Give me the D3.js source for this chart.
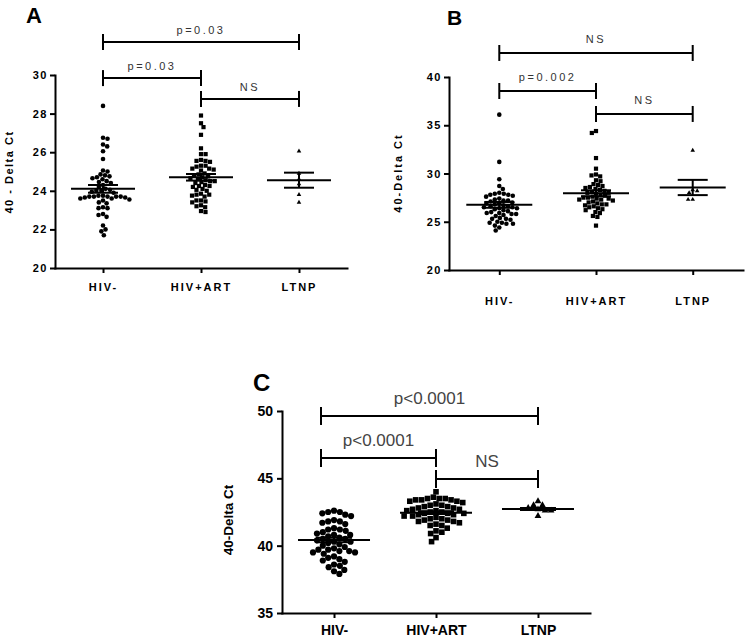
<!DOCTYPE html>
<html><head><meta charset="utf-8">
<script src="https://cdn.jsdelivr.net/npm/d3@7"></script>
<style>body{margin:0;background:#fff}svg{display:block}</style>
</head><body>
<svg id="chart" width="750" height="640"></svg>
<script>
// ---------------- DATA ----------------
const categories = ["HIV-", "HIV+ART", "LTNP"];

// Panel A
const aHIVneg = [28.4, 26.75, 26.7, 26.4, 26.3, 26.05, 25.65, 25.05, 25.0, 24.85, 24.8, 24.75, 24.7, 24.65, 24.6, 24.5, 24.45, 24.4, 24.3, 24.2, 24.1, 24.05, 24.0, 24.0, 23.95, 23.9, 23.75, 23.75, 23.7, 23.7, 23.7, 23.7, 23.7, 23.65, 23.65, 23.6, 23.6, 23.55, 23.5, 23.4, 23.35, 23.15, 23.1, 23.1, 22.8, 22.75, 22.65, 22.2, 22.0, 21.9, 21.7];
const aHIVart = [27.9, 27.5, 27.3, 26.9, 26.2, 25.9, 25.9, 25.6, 25.55, 25.55, 25.5, 25.3, 25.3, 25.25, 25.15, 25.15, 25.1, 25.05, 24.9, 24.85, 24.8, 24.75, 24.7, 24.65, 24.6, 24.55, 24.5, 24.5, 24.45, 24.4, 24.3, 24.25, 24.25, 24.2, 24.1, 24.05, 24.0, 23.85, 23.8, 23.8, 23.75, 23.7, 23.5, 23.5, 23.45, 23.4, 23.25, 23.2, 23.15, 22.95, 22.9];
const aLTNP = [26.05, 24.9, 24.6, 24.35, 23.8, 23.4];
const aMeans = [24.1, 24.7, 24.55];
const aSEM = [0.2, 0.17, 0.39];
const aTicks = [20, 22, 24, 26, 28, 30];
const aBracketLabels = ["p=0.03", "p=0.03", "NS"];

// Panel B
const bHIVneg = [36.1, 31.2, 29.4, 28.7, 28.4, 28.0, 27.9, 27.9, 27.8, 27.8, 27.7, 27.6, 27.4, 27.3, 27.2, 27.2, 27.1, 27.0, 26.9, 26.9, 26.8, 26.7, 26.6, 26.6, 26.5, 26.5, 26.4, 26.4, 26.3, 26.2, 26.1, 26.0, 25.9, 25.9, 25.8, 25.8, 25.7, 25.6, 25.4, 25.3, 25.3, 25.2, 25.0, 24.9, 24.9, 24.8, 24.8, 24.6, 24.4, 24.1];
const bHIVart = [34.4, 34.2, 31.6, 30.5, 29.9, 29.8, 29.7, 29.3, 29.2, 28.9, 28.8, 28.7, 28.6, 28.5, 28.4, 28.3, 28.2, 28.1, 28.0, 28.0, 27.9, 27.8, 27.7, 27.6, 27.5, 27.5, 27.4, 27.4, 27.3, 27.3, 27.2, 27.1, 27.0, 26.9, 26.8, 26.8, 26.7, 26.6, 26.5, 26.4, 26.3, 26.2, 26.0, 25.9, 25.6, 25.5, 24.6];
const bLTNP = [32.4, 28.3, 28.2, 28.0, 27.3, 27.3];
const bMeans = [26.75, 27.95, 28.55];
const bSEM = [0.3, 0.31, 0.79];
const bTicks = [20, 25, 30, 35, 40];
const bBracketLabels = ["NS", "p=0.002", "NS"];

// Panel C
const cHIVneg = [42.6, 42.5, 42.5, 42.4, 42.3, 42.2, 41.9, 41.8, 41.8, 41.7, 41.6, 41.3, 41.2, 41.2, 41.1, 41.0, 40.9, 40.8, 40.8, 40.7, 40.6, 40.5, 40.5, 40.4, 40.3, 40.3, 40.2, 40.1, 40.0, 39.9, 39.8, 39.7, 39.7, 39.6, 39.6, 39.5, 39.5, 39.4, 39.2, 39.1, 39.0, 38.9, 38.8, 38.6, 38.5, 38.4, 38.2, 38.1, 37.9];
const cHIVart = [44.0, 43.6, 43.5, 43.5, 43.5, 43.4, 43.4, 43.4, 43.3, 43.3, 43.2, 43.1, 43.0, 43.0, 42.9, 42.9, 42.8, 42.8, 42.7, 42.7, 42.6, 42.6, 42.5, 42.5, 42.4, 42.4, 42.4, 42.3, 42.3, 42.2, 42.2, 42.1, 42.0, 42.0, 41.9, 41.9, 41.8, 41.8, 41.7, 41.6, 41.5, 41.5, 41.3, 41.1, 41.0, 40.9, 40.6, 40.3];
const cLTNP = [43.3, 43.0, 43.0, 42.8, 42.7, 42.6, 42.6, 42.2];
const cMeans = [40.42, 42.45, 42.72];
const cSEM = [0.16, 0.1, 0.08];
const cTicks = [35, 40, 45, 50];
const cBracketLabels = ["p<0.0001", "p<0.0001", "NS"];

const bracketPairs = [["HIV-", "LTNP"], ["HIV-", "HIV+ART"], ["HIV+ART", "LTNP"]];

// ---------------- LAYOUT ----------------
const svg = d3.select("#chart");
const FONT = "'Liberation Sans', Arial, sans-serif";

const panels = [
  { letter: "A", letterX: 26, letterY: 23, letterSize: 22,
    groups: [aHIVneg, aHIVart, aLTNP], means: aMeans, sems: aSEM, ticks: aTicks,
    labels: aBracketLabels, domain: [20, 30],
    left: 55, right: 347, top: 75, bottom: 268, pad: 0.49,
    ylabel: "40 - Delta Ct", ylabelX: 13, ylabelY: 172, ylabelSize: 11, ylabelLS: 1.5,
    tickFont: 11, tickLS: 1.5, tickPadY: 2, xTickPad: 10, xLS: 2, catFontSize: 11,
    bracketLevels: [31.71, 29.84, 28.76], bracketH: 8, bracketTextOff: 8,
    bracketFont: 11, bracketLS: 2.5, bracketFill: "#333", bracketShift: [0, 0, 0, 0],
    r: 2.3, sq: 4.2, tri: 9, dia: 4.6, meanHalf: 32, semHalf: 15, center: [0, 0, 0] },
  { letter: "B", letterX: 447, letterY: 25, letterSize: 21,
    groups: [bHIVneg, bHIVart, bLTNP], means: bMeans, sems: bSEM, ticks: bTicks,
    labels: bBracketLabels, domain: [20, 40],
    left: 449, right: 743, top: 77, bottom: 270, pad: 0.52,
    ylabel: "40-Delta Ct", ylabelX: 402, ylabelY: 173, ylabelSize: 11, ylabelLS: 2,
    tickFont: 11, tickLS: 1.5, tickPadY: 2, xTickPad: 22, xLS: 2, catFontSize: 11,
    bracketLevels: [42.49, 38.55, 36.17], bracketH: 8, bracketTextOff: 10,
    bracketFont: 11, bracketLS: 2.5, bracketFill: "#333", bracketShift: [0, 0, 0, 0],
    r: 2.3, sq: 4.2, tri: 9, dia: 4.6, meanHalf: 33, semHalf: 15, center: [0, 0, 0] },
  { letter: "C", letterX: 253, letterY: 391, letterSize: 24,
    groups: [cHIVneg, cHIVart, cLTNP], means: cMeans, sems: cSEM, ticks: cTicks,
    labels: cBracketLabels, domain: [35, 50],
    left: 282, right: 590, top: 411, bottom: 613, pad: 0.51,
    ylabel: "40-Delta Ct", ylabelX: 233, ylabelY: 520, ylabelSize: 13.5, ylabelLS: 0,
    tickFont: 14, tickLS: 0, tickPadY: 4, xTickPad: 7, xLS: 0, catFontSize: 14,
    bracketLevels: [49.63, 46.51, 44.95], bracketH: 9, bracketTextOff: 12,
    bracketFont: 17, bracketLS: 0, bracketFill: "#444", bracketShift: [-13, 0, 0],
    r: 3.1, sq: 5.6, tri: 20, dia: 6.0, meanHalf: 36, semHalf: 18, center: [0, 0, 0] }
];

function swarm(values, y, d) {
  const pts = values.map(v => ({ v, py: y(v) })).sort((a, b) => a.py - b.py);
  const placed = [];
  pts.forEach((p, idx) => {
    const ints = [];
    placed.forEach(q => {
      const dy = Math.abs(q.py - p.py);
      if (dy < d) { const w = Math.sqrt(d * d - dy * dy); ints.push([q.dx - w, q.dx + w]); }
    });
    const cands = [0];
    ints.forEach(i => cands.push(i[0], i[1]));
    const sgn = idx % 2 ? 1 : -1;
    cands.sort((a, b) => (Math.abs(a) - Math.abs(b)) || (sgn * (a - b)));
    for (const c of cands) {
      if (ints.every(i => c <= i[0] + 1e-6 || c >= i[1] - 1e-6)) { p.dx = c; break; }
    }
    placed.push(p);
  });
  return placed;
}

panels.forEach(cfg => {
  const g = svg.append("g");
  const x = d3.scalePoint().domain(categories).range([cfg.left, cfg.right]).padding(cfg.pad);
  const y = d3.scaleLinear().domain(cfg.domain).range([cfg.bottom, cfg.top]);

  g.append("text").attr("x", cfg.letterX).attr("y", cfg.letterY)
    .attr("font-family", FONT).attr("font-weight", "bold").attr("font-size", cfg.letterSize)
    .text(cfg.letter);

  const ya = g.append("g").attr("transform", `translate(${cfg.left},0)`)
    .call(d3.axisLeft(y).tickValues(cfg.ticks).tickSize(5).tickSizeOuter(0).tickPadding(cfg.tickPadY).tickFormat(d3.format("d")));
  ya.attr("font-family", FONT).attr("font-size", cfg.tickFont).attr("font-weight", "bold");
  ya.selectAll("text").attr("letter-spacing", cfg.tickLS).attr("fill", "#000");
  ya.selectAll("line").attr("stroke", "#000").attr("stroke-width", 2);
  ya.select(".domain").attr("stroke", "#000").attr("stroke-width", 2).attr("stroke-linecap", "square");

  const xa = g.append("g").attr("transform", `translate(0,${cfg.bottom})`)
    .call(d3.axisBottom(x).tickSize(5).tickSizeOuter(0).tickPadding(cfg.xTickPad));
  xa.attr("font-family", FONT).attr("font-size", cfg.catFontSize).attr("font-weight", "bold");
  xa.selectAll("text").attr("letter-spacing", cfg.xLS).attr("fill", "#000");
  xa.selectAll("line").attr("stroke", "#000").attr("stroke-width", 2);
  xa.select(".domain").attr("stroke", "#000").attr("stroke-width", 2).attr("stroke-linecap", "square");

  g.append("text").attr("transform", `translate(${cfg.ylabelX},${cfg.ylabelY}) rotate(-90)`)
    .attr("text-anchor", "middle").attr("font-family", FONT).attr("font-weight", "bold")
    .attr("font-size", cfg.ylabelSize).attr("letter-spacing", cfg.ylabelLS).text(cfg.ylabel);

  cfg.groups.forEach((vals, gi) => {
    const cx = x(categories[gi]) + cfg.center[gi];
    const pts = swarm(vals, y, cfg.dia);
    const pg = g.append("g").attr("fill", "#000");
    if (gi === 0) {
      pg.selectAll("circle").data(pts).join("circle")
        .attr("cx", d => cx + d.dx).attr("cy", d => d.py).attr("r", cfg.r);
    } else if (gi === 1) {
      pg.selectAll("rect").data(pts).join("rect")
        .attr("x", d => cx + d.dx - cfg.sq / 2).attr("y", d => d.py - cfg.sq / 2)
        .attr("width", cfg.sq).attr("height", cfg.sq);
    } else {
      const sym = d3.symbol().type(d3.symbolTriangle).size(cfg.tri);
      pg.selectAll("path").data(pts).join("path")
        .attr("transform", d => `translate(${cx + d.dx},${d.py})`).attr("d", sym);
    }
    const m = cfg.means[gi], s = cfg.sems[gi];
    const lg = g.append("g").attr("stroke", "#000").attr("stroke-width", 2);
    lg.append("line").attr("x1", cx - cfg.meanHalf).attr("x2", cx + cfg.meanHalf).attr("y1", y(m)).attr("y2", y(m));
    lg.append("line").attr("x1", cx - cfg.semHalf).attr("x2", cx + cfg.semHalf).attr("y1", y(m + s)).attr("y2", y(m + s));
    lg.append("line").attr("x1", cx - cfg.semHalf).attr("x2", cx + cfg.semHalf).attr("y1", y(m - s)).attr("y2", y(m - s));
    lg.append("line").attr("x1", cx).attr("x2", cx).attr("y1", y(m + s)).attr("y2", y(m - s));
  });

  bracketPairs.forEach((pair, bi) => {
    const x1 = x(pair[0]) + (pair[0] === "HIV-" ? cfg.bracketShift[0] : 0);
    const x2 = x(pair[1]);
    const yl = y(cfg.bracketLevels[bi]);
    const bg = g.append("g").attr("stroke", "#000").attr("stroke-width", 2);
    bg.append("line").attr("x1", x1).attr("x2", x2).attr("y1", yl).attr("y2", yl);
    bg.append("line").attr("x1", x1).attr("x2", x1).attr("y1", yl - cfg.bracketH).attr("y2", yl + cfg.bracketH);
    bg.append("line").attr("x1", x2).attr("x2", x2).attr("y1", yl - cfg.bracketH).attr("y2", yl + cfg.bracketH);
    g.append("text").attr("x", (x1 + x2) / 2).attr("y", yl - cfg.bracketTextOff)
      .attr("text-anchor", "middle").attr("font-family", FONT).attr("font-size", cfg.bracketFont)
      .attr("letter-spacing", cfg.bracketLS).attr("fill", cfg.bracketFill).text(cfg.labels[bi]);
  });
});
</script>
</body></html>
